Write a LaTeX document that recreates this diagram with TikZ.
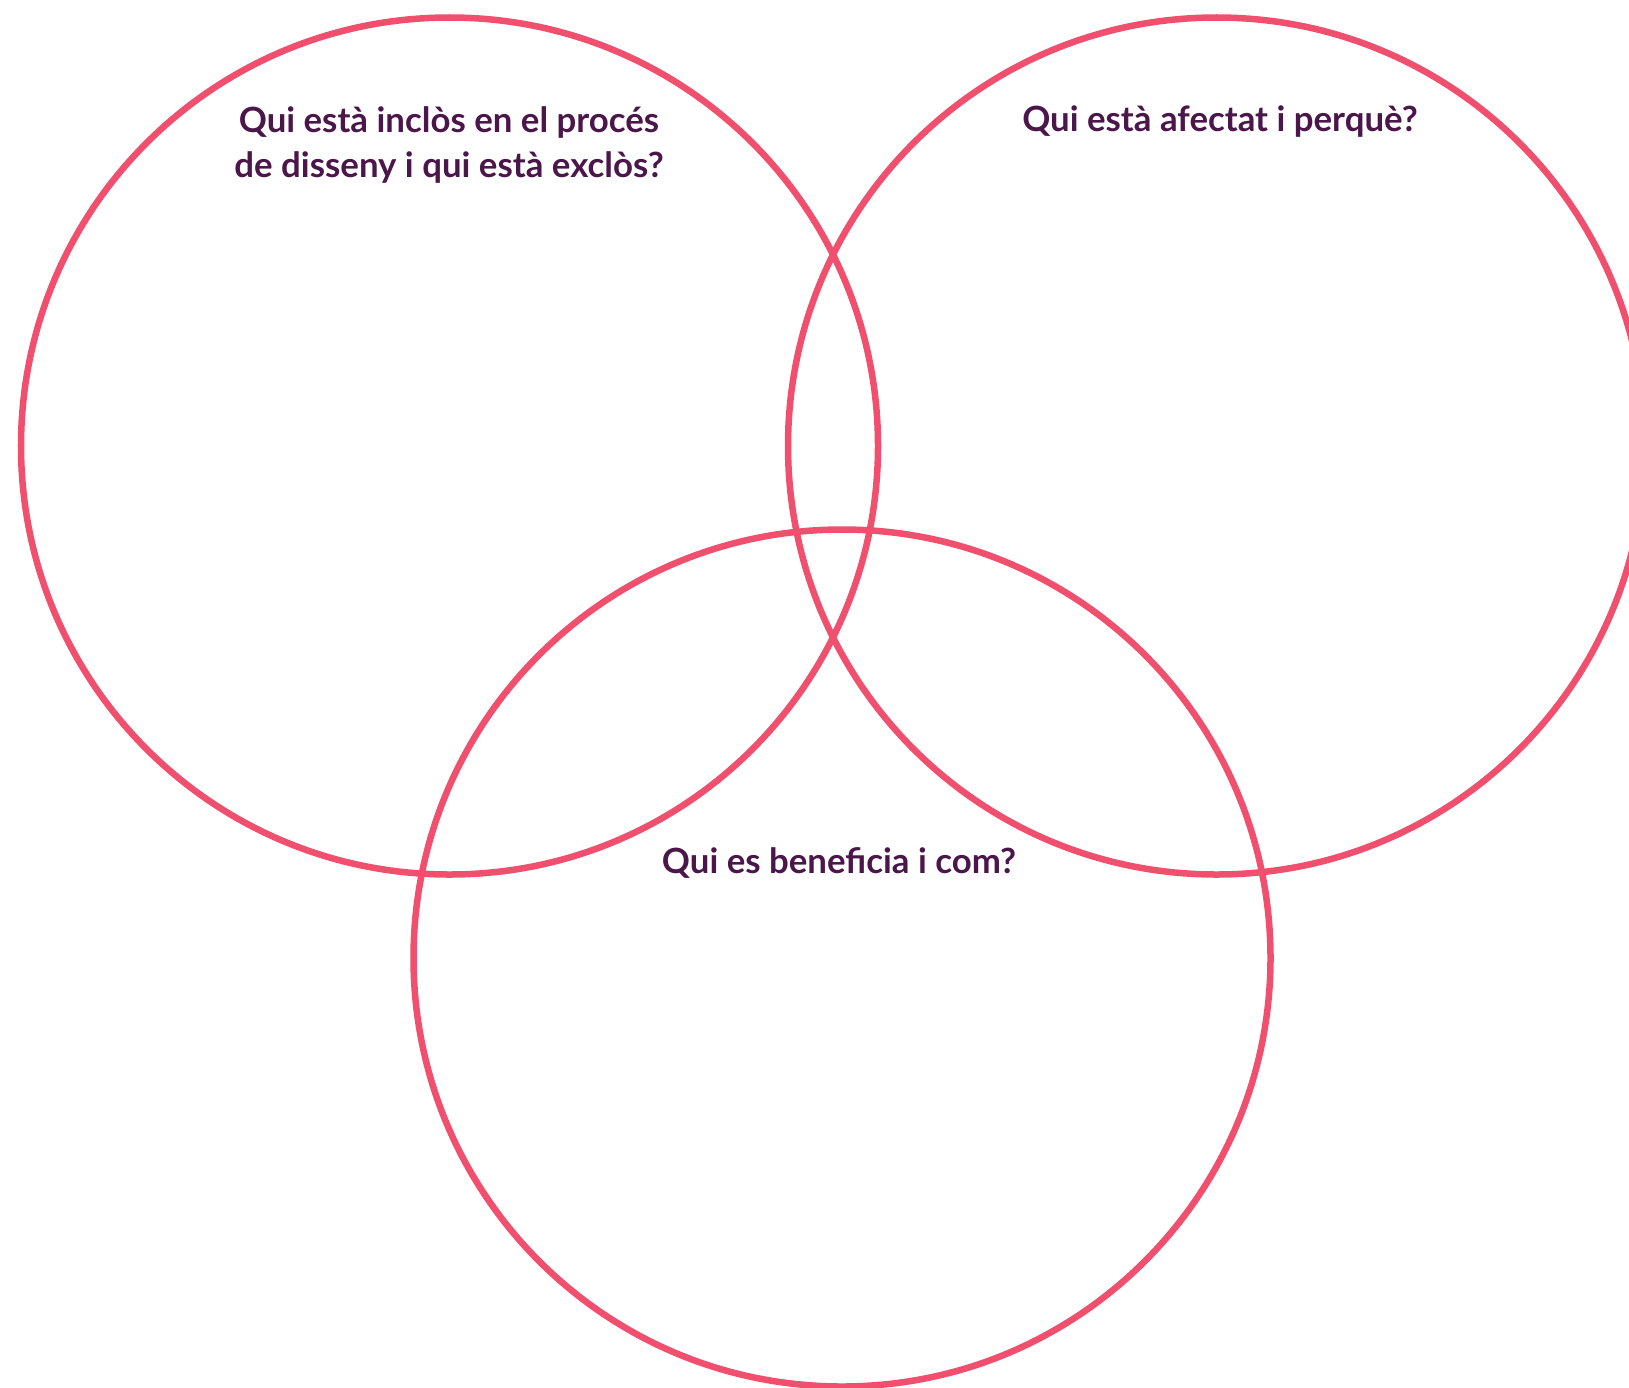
\documentclass[tikz,border=0pt]{standalone}
\usepackage{fontspec}
\setmainfont{Lato}
\definecolor{ringred}{RGB}{240,80,110}
\definecolor{askpurple}{RGB}{75,22,74}
\tikzset{
  ring/.style={circle, draw=ringred, line width=1.85pt, minimum size=8.57cm, inner sep=0pt},
  question/.style={text=askpurple, font=\fontsize{9.9}{12.8}\selectfont\bfseries, align=center, anchor=base}
}
\begin{document}
\begin{tikzpicture}

\useasboundingbox (0,0) rectangle (16.29,13.87);

\node [ring] (incl) at (4.495,9.41) {};
\node [ring] (afec) at (12.165,9.41) {};
\node [ring] (bene) at (8.42,4.29) {};

\node [question] (qincl) at (4.49,12.10) {Qui està inclòs en el procés\\de disseny i qui està exclòs?};
\node [question] (qafec) at (12.2,12.55) {Qui està afectat i perquè?};
\node [question] (qbene) at (8.39,5.14) {Qui es beneficia i com?};

\end{tikzpicture}
\end{document}
